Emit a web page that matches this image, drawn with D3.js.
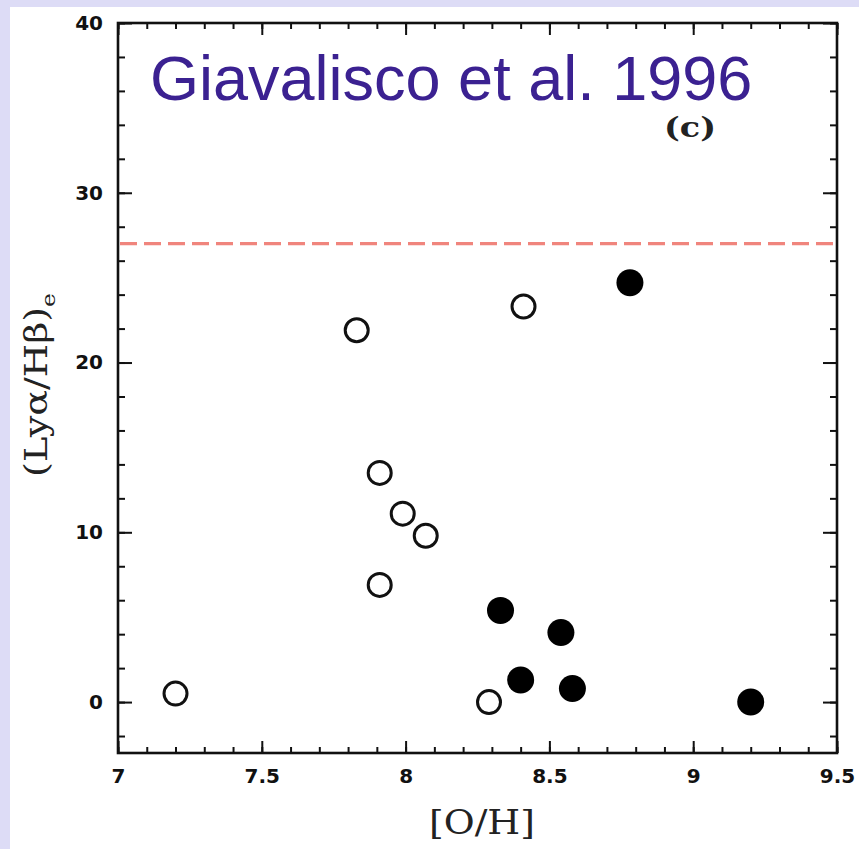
<!DOCTYPE html>
<html>
<head>
<meta charset="utf-8">
<script src="https://cdn.jsdelivr.net/npm/d3@7"></script>
<style>
  body { margin: 0; background: #dddcf6; }
  svg { display: block; }
</style>
</head>
<body>
<script>
// Lya/Hb ratio vs oxygen abundance, panel (c)

// data
var openOH  = [7.20, 7.83, 8.41, 7.91, 7.99, 8.07, 7.91, 8.29];
var openLya = [0.5, 21.9, 23.3, 13.5, 11.1, 9.8, 6.9, 0.0];
var fillOH  = [8.33, 8.54, 8.40, 8.58, 8.78, 9.20];
var fillLya = [5.4, 4.1, 1.3, 0.8, 24.7, 0.0];
var caseB = 27;   // dashed line

var xTicks = [7, 7.5, 8, 8.5, 9, 9.5];
var yTicks = [0, 10, 20, 30, 40];

var W = 859, H = 849;
var pLeft = 118, pRight = 837, pTop = 23, pBottom = 753;

var x = d3.scaleLinear().domain([7, 9.5]).range([pLeft, pRight]);
var y = d3.scaleLinear().domain([-3, 40]).range([pBottom, pTop]);

var svg = d3.select("body").append("svg")
    .attr("width", W)
    .attr("height", H);

// white page over lavender border
svg.append("rect")
    .attr("x", 10).attr("y", 7)
    .attr("width", W - 10).attr("height", H - 7)
    .attr("fill", "#fff");

// stretch a text so it takes a given width (scan is wide)
function stretch(sel, w) {
    var bw = sel.node().getBBox().width;
    return w / bw;
}

var minorX = d3.range(7, 9.5001, 0.1);
var minorY = d3.range(-2, 40.001, 2);

function noLine(g) {
    g.select(".domain").remove();
    g.selectAll("line").attr("stroke", "#111").attr("stroke-width", 2);
    g.selectAll("text")
        .attr("fill", "#111")
        .style("font-family", "DejaVu Sans")
        .style("font-weight", "bold")
        .style("font-size", "20px");
}

// minor ticks
svg.append("g").attr("transform", "translate(0," + pBottom + ")")
    .call(d3.axisBottom(x).tickValues(minorX).tickSize(-6).tickFormat(""))
    .call(noLine);
svg.append("g").attr("transform", "translate(0," + pTop + ")")
    .call(d3.axisTop(x).tickValues(minorX).tickSize(-6).tickFormat(""))
    .call(noLine);
svg.append("g").attr("transform", "translate(" + pLeft + ",0)")
    .call(d3.axisLeft(y).tickValues(minorY).tickSize(-7).tickFormat(""))
    .call(noLine);
svg.append("g").attr("transform", "translate(" + pRight + ",0)")
    .call(d3.axisRight(y).tickValues(minorY).tickSize(-7).tickFormat(""))
    .call(noLine);

// major ticks + labels
svg.append("g").attr("transform", "translate(0," + pBottom + ")")
    .call(d3.axisBottom(x).tickValues(xTicks).tickSizeInner(-12).tickSizeOuter(0)
        .tickPadding(16).tickFormat(d3.format("")))
    .call(noLine);
svg.append("g").attr("transform", "translate(0," + pTop + ")")
    .call(d3.axisTop(x).tickValues(xTicks).tickSizeInner(-12).tickSizeOuter(0).tickFormat(""))
    .call(noLine);
svg.append("g").attr("transform", "translate(" + pLeft + ",0)")
    .call(d3.axisLeft(y).tickValues(yTicks).tickSizeInner(-14).tickSizeOuter(0)
        .tickPadding(15))
    .call(noLine);
svg.append("g").attr("transform", "translate(" + pRight + ",0)")
    .call(d3.axisRight(y).tickValues(yTicks).tickSizeInner(-14).tickSizeOuter(0).tickFormat(""))
    .call(noLine);

// frame
svg.append("rect")
    .attr("x", pLeft).attr("y", pTop)
    .attr("width", pRight - pLeft).attr("height", pBottom - pTop)
    .attr("fill", "none")
    .attr("stroke", "#111")
    .attr("stroke-width", 2.6);

// dashed reference line
svg.append("line")
    .attr("x1", x(7) + 2).attr("x2", x(9.5))
    .attr("y1", y(caseB)).attr("y2", y(caseB))
    .attr("stroke", "#f0857d")
    .attr("stroke-width", 3.2)
    .attr("stroke-dasharray", "17,7");

// open circles
svg.selectAll(".open")
    .data(openOH)
    .enter().append("circle")
    .attr("class", "open")
    .attr("cx", function(d) { return x(d); })
    .attr("cy", function(d, i) { return y(openLya[i]); })
    .attr("r", 11.5)
    .attr("fill", "#fff")
    .attr("stroke", "#111")
    .attr("stroke-width", 3);

// filled circles
svg.selectAll(".filled")
    .data(fillOH)
    .enter().append("circle")
    .attr("class", "filled")
    .attr("cx", function(d) { return x(d); })
    .attr("cy", function(d, i) { return y(fillLya[i]); })
    .attr("r", 13.5)
    .attr("fill", "#000");

// title
svg.append("text")
    .attr("x", 150)
    .attr("y", 100)
    .attr("fill", "#3b2191")
    .style("font-family", "Liberation Sans, Arial, sans-serif")
    .style("font-size", "63px")
    .text("Giavalisco et al. 1996");

// panel tag
var tag = svg.append("text")
    .attr("text-anchor", "middle")
    .attr("fill", "#222")
    .style("font-family", "DejaVu Serif")
    .style("font-weight", "bold")
    .style("font-size", "27px")
    .text("(c)");
tag.attr("transform", "translate(690,137) scale(" + stretch(tag, 52) + ",1)");

// x label
var xl = svg.append("text")
    .attr("text-anchor", "middle")
    .attr("fill", "#222")
    .style("font-family", "DejaVu Serif")
    .style("font-size", "34px")
    .text("[O/H]");
xl.attr("transform", "translate(482,834) scale(" + stretch(xl, 106) + ",1)");

// y label
var yl = svg.append("text")
    .attr("text-anchor", "middle")
    .attr("fill", "#222")
    .style("font-family", "DejaVu Serif")
    .style("font-size", "31px");
yl.append("tspan").text("(Ly\u03b1/H\u03b2)");
yl.append("tspan")
    .attr("dy", 8)
    .style("font-size", "19px")
    .text("e");
yl.attr("transform", "translate(47,385) rotate(-90) scale(" + stretch(yl, 184) + ",1)");
</script>
</body>
</html>
